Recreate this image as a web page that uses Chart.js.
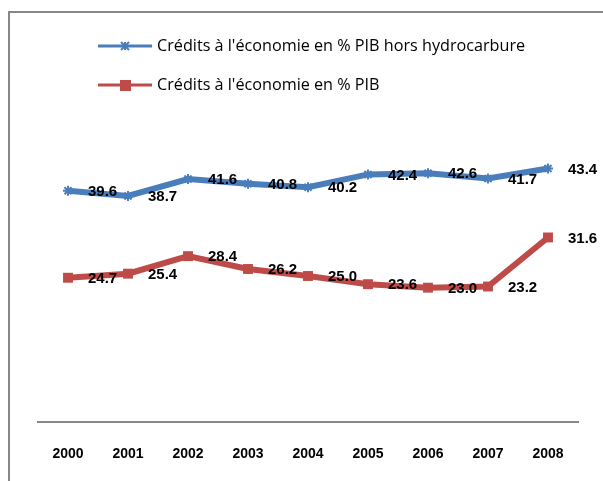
<!DOCTYPE html>
<html>
<head>
<meta charset="utf-8">
<script src="https://cdn.jsdelivr.net/npm/chart.js@4.4.1/dist/chart.umd.min.js"></script>
<style>
body { margin: 0; background: #fff; }
#wrap { position: relative; width: 603px; height: 481px; overflow: hidden; }
#frame { position: absolute; left: 8px; top: 11px; width: 700px; height: 600px; border-left: 2px solid #878787; border-top: 2px solid #878787; }
#myChart { position: absolute; left: 0; top: 0; }
</style>
</head>
<body>
<div id="wrap">
    <div id="frame"></div>
    <canvas id="myChart" width="603" height="481"></canvas>
</div>
<script>
var years = ['2000', '2001', '2002', '2003', '2004', '2005', '2006', '2007', '2008'];
var creditsHorsHydro = [39.6, 38.7, 41.6, 40.8, 40.2, 42.4, 42.6, 41.7, 43.4];
var creditsPib = [24.7, 25.4, 28.4, 26.2, 25.0, 23.6, 23.0, 23.2, 31.6];
var seriesNames = ["Crédits à l'économie en % PIB hors hydrocarbure", "Crédits à l'économie en % PIB"];

var blue = '#4A7EBB';
var red = '#BE4B48';

// 값 라벨 (점 오른쪽)
var valueLabels = {
    id: 'valueLabels',
    afterDatasetsDraw: function(chart) {
        var ctx = chart.ctx;
        ctx.save();
        ctx.font = 'bold 15px "Liberation Sans"';
        ctx.fillStyle = '#000';
        ctx.textAlign = 'left';
        ctx.textBaseline = 'middle';
        chart.data.datasets.forEach(function(ds, i) {
            var meta = chart.getDatasetMeta(i);
            meta.data.forEach(function(pt, j) {
                ctx.fillText(ds.data[j].toFixed(1), pt.x + 20, pt.y + 1);
            });
        });
        ctx.restore();
    }
};

// 범례 (세로로 왼쪽 정렬)
var customLegend = {
    id: 'customLegend',
    afterDraw: function(chart) {
        var ctx = chart.ctx;
        var rows = [46, 85];
        ctx.save();
        chart.data.datasets.forEach(function(ds, i) {
            var y = rows[i];
            ctx.strokeStyle = ds.borderColor;
            ctx.fillStyle = ds.borderColor;
            ctx.lineWidth = 3;
            ctx.beginPath();
            ctx.moveTo(98, y);
            ctx.lineTo(152, y);
            ctx.stroke();
            if (ds.pointStyle == 'star') {
                ctx.lineWidth = 2;
                ctx.beginPath();
                ctx.moveTo(125, y - 4); ctx.lineTo(125, y + 4);
                ctx.moveTo(121, y - 4); ctx.lineTo(129, y + 4);
                ctx.moveTo(129, y - 4); ctx.lineTo(121, y + 4);
                ctx.stroke();
            } else {
                ctx.fillRect(120, y - 5, 11, 11);
            }
            ctx.fillStyle = '#000';
            ctx.font = '16.2px "Open Sans"';
            ctx.textAlign = 'left';
            ctx.textBaseline = 'middle';
            ctx.fillText(ds.label, 157, y);
        });
        ctx.restore();
    }
};

var ctx1 = document.getElementById('myChart').getContext('2d');
var myChart1 = new Chart(ctx1, {
    type: 'line',
    data: {
        labels: years,
        datasets: [{
            label: seriesNames[0],
            data: creditsHorsHydro,
            borderColor: blue,
            backgroundColor: blue,
            borderWidth: 6,
            pointStyle: 'star',
            pointRadius: 5,
            pointBorderWidth: 2,
            pointBorderColor: blue,
            tension: 0
        }, {
            label: seriesNames[1],
            data: creditsPib,
            borderColor: red,
            backgroundColor: red,
            borderWidth: 6,
            pointStyle: 'rect',
            pointRadius: 7,
            pointBorderWidth: 0,
            pointBorderColor: red,
            tension: 0
        }]
    },
    options: {
        responsive: false,
        animation: false,
        layout: {
            padding: { left: 38, right: 25, top: 130, bottom: 17 }
        },
        plugins: {
            legend: { display: false },
            tooltip: { enabled: false }
        },
        scales: {
            x: {
                offset: true,
                grid: { display: false, drawTicks: false },
                border: { display: true, color: '#878787', width: 2 },
                ticks: {
                    color: '#000',
                    padding: 24,
                    font: { family: 'Liberation Sans', size: 14, weight: 'bold' }
                },
                afterFit: function(scale) {
                    scale.height = 42;
                }
            },
            y: {
                display: false,
                min: 0,
                max: 50
            }
        }
    },
    plugins: [valueLabels, customLegend]
});
</script>
</body>
</html>
